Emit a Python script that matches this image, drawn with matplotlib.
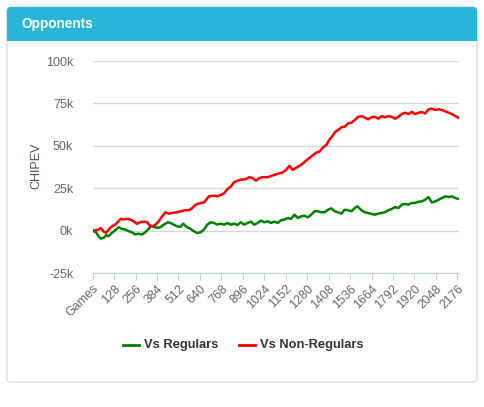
import numpy as np
import matplotlib
matplotlib.use("Agg")
from matplotlib import pyplot as plt, patches as pth

plt.rcParams['font.family'] = ['Liberation Sans', 'DejaVu Sans']

# games played (x) and cumulative CHIPEV in thousands
reg_games = [0, 20, 34, 48, 64, 80, 94, 114, 134, 154, 174, 194, 214, 234, 254, 274, 294,
             314, 334, 348, 364, 384, 404, 424, 448, 464, 484, 504, 524, 540, 560, 584,
             604, 624, 644, 664, 684, 704, 724, 744, 764, 784, 804, 824, 844, 864, 884,
             904, 924, 944, 964, 984, 1004, 1024, 1044, 1064, 1084, 1104, 1124, 1144,
             1164, 1184, 1204, 1224, 1244, 1264, 1284, 1304, 1324, 1344, 1364, 1384,
             1404, 1424, 1444, 1464, 1484, 1504, 1524, 1544, 1564, 1580, 1604, 1624,
             1644, 1664, 1684, 1704, 1724, 1744, 1764, 1784, 1804, 1824, 1844, 1864,
             1884, 1904, 1924, 1944, 1964, 1984, 2004, 2024, 2044, 2064, 2084, 2104,
             2124, 2144, 2164, 2186]
reg_vals = [0, -1, -3.3, -4.7, -4.3, -2.7, -3.3, -1.4, 0.2, 2, 1, 0.6, -0.4, -1, -2.3,
            -1.8, -2.3, -1, 1, 2.9, 2.2, 1.6, 2, 3.5, 4.9, 4.5, 3.5, 2.5, 2.2, 4.1, 2.2,
            1, -0.4, -1.4, -1, 0.6, 3.5, 4.9, 4.5, 3.5, 4.1, 3.5, 4.5, 3.5, 4.1, 3.3, 4.9,
            3.5, 4.5, 5.3, 3.5, 4.5, 5.9, 4.9, 5.5, 4.5, 5.3, 4.5, 6.1, 6.5, 7.4, 6.9,
            9.4, 7.4, 8.4, 8.8, 7.8, 9.4, 11.4, 11.4, 10.8, 10.8, 12.3, 13.1, 11.4, 10.8,
            10, 12.3, 12, 11.4, 13.3, 14.3, 12, 10.8, 10.4, 9.8, 9.4, 10, 10.4, 10.8, 12,
            12.7, 13.9, 13.3, 15.3, 15.7, 15.3, 16.3, 16.3, 17, 17.2, 18.2, 19.8, 16.6,
            17.2, 18.2, 19.2, 20.2, 19.8, 20.2, 19.2, 18.6]

non_games = [0, 34, 48, 64, 80, 94, 114, 134, 154, 168, 184, 204, 224, 244, 264, 284,
             304, 324, 340, 360, 374, 394, 414, 434, 454, 474, 504, 524, 554, 574, 594,
             614, 644, 664, 694, 724, 744, 764, 784, 804, 824, 844, 864, 884, 914, 934,
             954, 974, 994, 1014, 1044, 1074, 1104, 1134, 1154, 1174, 1194, 1220, 1244,
             1274, 1304, 1334, 1354, 1374, 1394, 1414, 1428, 1448, 1464, 1484, 1504,
             1524, 1544, 1564, 1584, 1604, 1624, 1644, 1664, 1684, 1704, 1724, 1744,
             1764, 1784, 1804, 1824, 1844, 1864, 1884, 1904, 1924, 1944, 1964, 1984,
             2004, 2024, 2044, 2064, 2084, 2104, 2124, 2144, 2164, 2186]
non_vals = [0, 0.5, 1.5, -0.5, -1.3, 0.5, 2.5, 3.5, 5.5, 7, 6.5, 7, 6.5, 5.5, 4, 5,
            5.3, 5, 3, 2.5, 3.5, 5.5, 8.4, 10.8, 10, 10.4, 10.8, 11.4, 12, 12, 13.3,
            15.3, 16.3, 16.6, 20.2, 20.6, 20.2, 21, 22, 24.5, 26, 28.6, 29.4, 30, 30.3,
            31.5, 31, 29.4, 31, 31.5, 31.5, 32.5, 33.5, 34.3, 35.8, 38.2, 35.8, 37.4,
            38.8, 41.3, 43.7, 46, 46.6, 49.1, 50.5, 53.8, 55.4, 58.3, 59.3, 60.9, 61.3,
            63.2, 63.6, 65.2, 67.1, 67.5, 66.6, 65.6, 66.8, 67.1, 66, 67.5, 66.8, 67.5,
            67.1, 66, 67.1, 68.7, 69.5, 68.7, 70, 68.7, 69.5, 69.9, 69.1, 71.5, 71.9,
            71.1, 71.5, 71.1, 70.3, 69.5, 68.7, 67.5, 66.4]

x_ticks = list(range(0, 2177, 128))
x_labels = ["Games"] + [str(t) for t in x_ticks[1:]]
y_ticks = [-25000, 0, 25000, 50000, 75000, 100000]
y_labels = ["-25k", "0k", "25k", "50k", "75k", "100k"]

W, H = 485, 407
fig = plt.figure(figsize=(W / 100, H / 100), dpi=100)

# card background, drawn in pixel coordinates
bg = fig.add_axes([0, 0, 1, 1], zorder=0)
bg.set_xlim(0, W)
bg.set_ylim(H, 0)
bg.axis("off")
bg.add_patch(pth.FancyBboxPatch((7, 7), 470, 375, boxstyle="round,pad=0,rounding_size=4",
                                facecolor="white", edgecolor="#dddddd", linewidth=1))
bg.add_patch(pth.FancyBboxPatch((7, 7), 470, 34, boxstyle="round,pad=0,rounding_size=4",
                                facecolor="#29b5d7", edgecolor="none"))
bg.add_patch(pth.Rectangle((7, 30), 470, 11, facecolor="#29b5d7", edgecolor="none"))
bg.text(22, 24, "Opponents", color="white", fontsize=9.8, fontweight="bold", va="center")

# legend drawn by hand to keep the centred horizontal layout
bg.plot([123, 139], [345, 345], color="#008000", lw=2)
bg.text(144, 345, "Vs Regulars", color="#333333", fontsize=9.3, fontweight="bold", va="center")
bg.plot([239, 255], [345, 345], color="#ff0000", lw=2)
bg.text(260, 345, "Vs Non-Regulars", color="#333333", fontsize=9.3, fontweight="bold", va="center")

ax = fig.add_axes([92.7 / W, 1 - 273 / H, (459 - 92.7) / W, (273 - 61) / H], zorder=1)
ax.patch.set_alpha(0)
ax.plot(reg_games, np.array(reg_vals) * 1000, color="#008000", lw=1.8)
ax.plot(non_games, np.array(non_vals) * 1000, color="#ff0000", lw=1.8)

ax.set_xlim(0, 2186)
ax.set_ylim(-25000, 100000)
ax.set_yticks(y_ticks)
ax.set_yticklabels(y_labels)
ax.set_xticks(x_ticks)
ax.set_xticklabels(x_labels, rotation=45, ha="right", rotation_mode="anchor")
ax.grid(axis="y", color="#d8d8d8", lw=1)
ax.set_axisbelow(True)
for s in ["top", "right", "left"]:
    ax.spines[s].set_visible(False)
ax.spines["bottom"].set_color("#c0d0e0")
ax.tick_params(axis="y", length=0, pad=14, labelsize=9, labelcolor="#666666")
ax.tick_params(axis="x", length=5, color="#c0d0e0", pad=2, labelsize=9, labelcolor="#666666")
ax.set_ylabel("CHIPEV", color="#4d4d6b", fontsize=9)
ax.yaxis.set_label_coords(-0.137, 0.505)

fig.savefig("out.png", dpi=100)
